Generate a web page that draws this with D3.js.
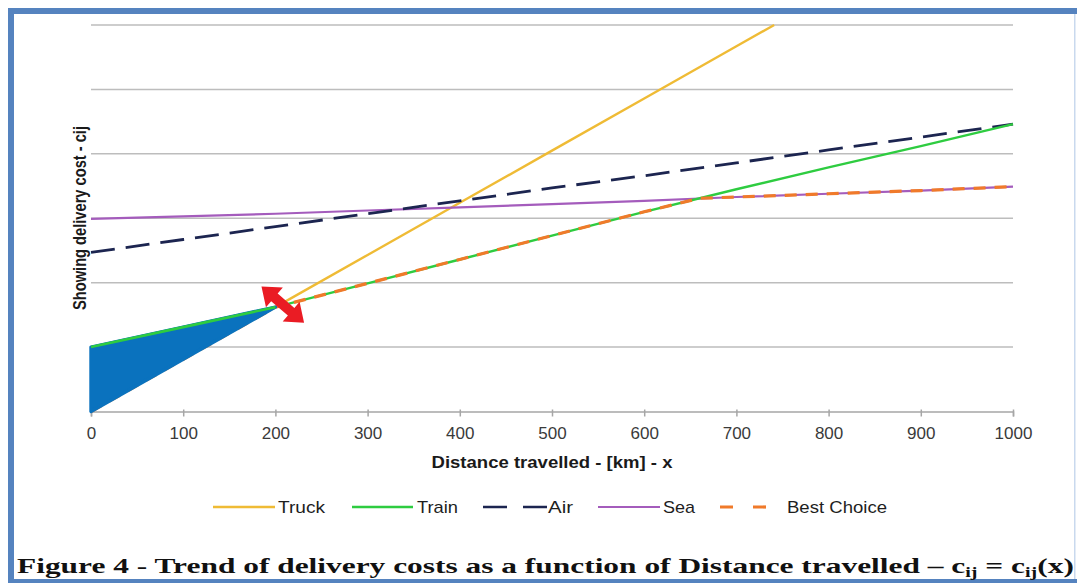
<!DOCTYPE html>
<html><head><meta charset="utf-8">
<script src="https://cdn.jsdelivr.net/npm/d3@7"></script>
<style>body{margin:0;background:#fff}svg{display:block}</style>
</head><body>
<svg id="c" width="1077" height="583"></svg>
<script>
// ---------- data ----------
const distances = [0,100,200,300,400,500,600,700,800,900,1000];
const truckKm   = [0,100,200,300,400,500,600,700,741];
const truckCost = [0,8.1,16.2,24.3,32.4,40.5,48.6,56.7,60];
const trainCost = [10,13.1,16.2,19.9,23.6,27.3,31.0,34.5,37.9,41.2,44.6];
const airCost   = [24.7,26.7,28.7,30.7,32.7,34.7,36.6,38.6,40.6,42.6,44.6];
const seaCost   = [29.9,30.3,30.7,31.2,31.7,32.2,32.7,33.3,33.8,34.3,34.9];
const bestKm    = [0,100,200,300,400,500,600,660,700,800,900,1000];
const bestCost  = [0,8.1,16.2,19.9,23.6,27.3,31.0,33.1,33.3,33.8,34.3,34.9];
const shadeKm   = [0,100,200];
const xTicks    = [0,100,200,300,400,500,600,700,800,900,1000];
const yGrid     = [0,10,20,30,40,50,60];
const legendLabels = ["Truck","Train","Air","Sea","Best Choice"];
const arrowAt = {km: 208, cost: 16.6};

// ---------- setup ----------
const svg = d3.select("#c");
const x = d3.scaleLinear().domain([0,1000]).range([91,1013]);
const y = d3.scaleLinear().domain([0,60]).range([411.5,25]);

const colors = {Truck:"#efbb35", Train:"#2ecc40", Air:"#1c2550", Sea:"#a45cbc", Best:"#f07a2a"};
const sans = "Liberation Sans, Arial, sans-serif";

// frame
const frameBlue = "#5583bf";
svg.append("rect").attr("x",8).attr("y",8).attr("width",1069).attr("height",6).attr("fill",frameBlue);
svg.append("rect").attr("x",8).attr("y",8).attr("width",6).attr("height",575).attr("fill",frameBlue);
svg.append("rect").attr("x",8).attr("y",579).attr("width",1069).attr("height",4).attr("fill",frameBlue);
svg.append("rect").attr("x",1074).attr("y",14).attr("width",1.5).attr("height",565).attr("fill","#c9d9ee");

// gridlines
svg.append("g").selectAll("line").data(yGrid.filter(d=>d>0)).join("line")
  .attr("x1",x(0)).attr("x2",x(1000)).attr("y1",d=>y(d)).attr("y2",d=>y(d))
  .attr("stroke","#bdbdbd").attr("stroke-width",1.5);

// x axis
const xAxis = d3.axisBottom(x).tickValues(xTicks).tickFormat(d3.format("d")).tickSize(5).tickPadding(10);
const gx = svg.append("g").attr("transform",`translate(0,${y(0)})`).call(xAxis);
gx.select(".domain").attr("stroke","#a6a6a6").attr("stroke-width",1.5);
gx.selectAll(".tick line").attr("stroke","#a6a6a6").attr("stroke-width",1.5).attr("y1",-2);
gx.selectAll(".tick text").attr("font-family",sans)
  .attr("font-size",17).attr("fill","#3a3a3a");

// line generator
const line = d3.line().x(d=>x(d[0])).y(d=>y(d[1]));
const zip = (a,b)=>a.map((v,i)=>[v,b[i]]);

svg.append("path").attr("d",line(zip(truckKm,truckCost))).attr("fill","none")
  .attr("stroke",colors.Truck).attr("stroke-width",2.4);
svg.append("path").attr("d",line(zip(distances,seaCost))).attr("fill","none")
  .attr("stroke",colors.Sea).attr("stroke-width",2.2);
svg.append("path").attr("d",line(zip(distances,airCost))).attr("fill","none")
  .attr("stroke",colors.Air).attr("stroke-width",2.8).attr("stroke-dasharray","24,11");
svg.append("path").attr("d",line(zip(distances,trainCost))).attr("fill","none")
  .attr("stroke",colors.Train).attr("stroke-width",2.4);
svg.append("path").attr("d",line(zip(bestKm,bestCost))).attr("fill","none")
  .attr("stroke",colors.Best).attr("stroke-width",3.2).attr("stroke-dasharray","12,9");

// shaded area between truck and train
const area = d3.area().x(d=>x(d.km)).y0(d=>y(d.lo)).y1(d=>y(d.hi));
const shade = shadeKm.map((k,i)=>({km:k, lo:truckCost[i], hi:trainCost[i]}));
svg.append("path").attr("d",area(shade)).attr("fill","#0a72be")
  .attr("stroke","#0a72be").attr("stroke-width",3.4).attr("stroke-linejoin","round");
svg.append("path").attr("d",line(shadeKm.map((k,i)=>[k,trainCost[i]]))).attr("fill","none")
  .attr("stroke",colors.Train).attr("stroke-width",2.6);

// red double arrow
const ax = x(arrowAt.km), ay = y(arrowAt.cost);
const arrowPts = [[-28,0],[-11,-13],[-11,-5],[11,-5],[11,-13],[28,0],[11,13],[11,5],[-11,5],[-11,13]];
svg.append("polygon").attr("points",arrowPts.map(p=>p.join(",")).join(" "))
  .attr("transform",`translate(${ax},${ay}) rotate(40.5)`).attr("fill","#ea1c24");

// axis titles
svg.append("text").attr("x",552).attr("y",468).attr("text-anchor","middle")
  .attr("font-family",sans).attr("font-weight","bold").attr("font-size",17)
  .attr("fill","#1a1a1a").attr("textLength",241).attr("lengthAdjust","spacingAndGlyphs")
  .text("Distance travelled - [km] - x");
svg.append("text").attr("transform","translate(86,218) rotate(-90)").attr("text-anchor","middle")
  .attr("font-family",sans).attr("font-weight","bold").attr("font-size",18)
  .attr("fill","#1a1a1a").attr("textLength",184).attr("lengthAdjust","spacingAndGlyphs")
  .text("Showing delivery cost - cij");

// legend
const legendLayout = [
  {x1:213,x2:275,tx:278,tw:47,color:colors.Truck,dash:null,w:2.4},
  {x1:352,x2:413,tx:417,tw:41,color:colors.Train,dash:null,w:2.4},
  {x1:483,x2:547,tx:548,tw:25,color:colors.Air,dash:"24,16",w:2.6},
  {x1:598,x2:660,tx:663,tw:32,color:colors.Sea,dash:null,w:2.2},
  {x1:720,x2:767,tx:787,tw:100,color:colors.Best,dash:"13,20",w:3.2}
];
const ly = 507;
const lg = svg.append("g");
legendLabels.forEach((lab,i)=>{
  const L = legendLayout[i];
  lg.append("line").attr("x1",L.x1).attr("x2",L.x2).attr("y1",ly).attr("y2",ly)
    .attr("stroke",L.color).attr("stroke-width",L.w).attr("stroke-dasharray",L.dash);
  lg.append("text").attr("x",L.tx).attr("y",ly+6).attr("font-family",sans)
    .attr("font-size",17).attr("fill","#1e1e1e").attr("textLength",L.tw).attr("lengthAdjust","spacingAndGlyphs")
    .text(lab);
});

// caption
const cap = svg.append("text").attr("x",17).attr("y",573)
  .attr("font-family","Liberation Serif, Times New Roman, serif").attr("font-weight","bold")
  .attr("font-size",22).attr("fill","#111");
cap.append("tspan").text("Figure 4 - Trend of delivery costs as a function of Distance travelled \u2013 c");
cap.append("tspan").attr("font-size",14).attr("dy",4).text("ij");
cap.append("tspan").attr("dy",-4).text(" = c");
cap.append("tspan").attr("font-size",14).attr("dy",4).text("ij");
cap.append("tspan").attr("dy",-4).text("(x)");
const w = cap.node().getComputedTextLength();
const target = 1057;
if (w > 0) {
  const s = target / w;
  cap.attr("transform",`translate(17,573) scale(${s},1) translate(-17,-573)`);
}
</script>
</body></html>
